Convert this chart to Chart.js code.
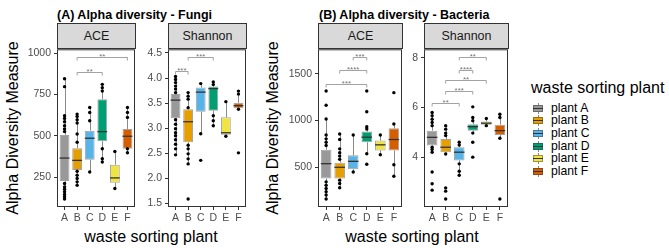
<!DOCTYPE html>
<html>
<head>
<meta charset="utf-8">
<script src="https://cdn.jsdelivr.net/npm/chart.js@4.4.1/dist/chart.umd.min.js"></script>
<style>
  body { margin: 0; background: #fff; font-family: "Liberation Sans", Arial, sans-serif; }
  #wrap { position: relative; width: 669px; height: 248px; overflow: hidden; background: #fff; }
  canvas { position: absolute; }
  .txt { position: absolute; white-space: nowrap; color: #000; }
  .title { font-weight: bold; font-size: 12.5px; line-height: 16px; }
  .axt { font-size: 16px; line-height: 20px; text-align: center; width: 220px; }
  .strip { position: absolute; box-sizing: border-box; background: #d9d9d9; border: 1px solid #333;
           font-size: 12.5px; color: #1a1a1a; text-align: center; }
  .key { position: absolute; width: 10px; height: 11px; }
  .key .wh { position: absolute; left: 4.5px; top: 0; width: 1px; height: 11px; background: #888; }
  .key .bx { position: absolute; left: 0; top: 2px; width: 10px; height: 7px; box-sizing: border-box;
             border: 1px solid rgba(50,50,50,0.45); }
  .key .md { position: absolute; left: 0; top: 5px; width: 10px; height: 1px; background: #333; }
  .lab { position: absolute; font-size: 12.2px; line-height: 13px; }
</style>
</head>
<body>
<div id="wrap">
  <div class="txt title" style="left:57px; top:7px;">(A) Alpha diversity - Fungi</div>
  <div class="txt title" style="left:319px; top:7px;">(B) Alpha diversity - Bacteria</div>
  <div class="txt axt" style="left:-97px; top:118px; transform:rotate(-90deg);">Alpha Diversity Measure</div>
  <div class="txt axt" style="left:163px; top:118px; transform:rotate(-90deg);">Alpha Diversity Measure</div>
  <div class="txt axt" style="left:41px; top:227px;">waste sorting plant</div>
  <div class="txt axt" style="left:302px; top:227px;">waste sorting plant</div>
  <div class="txt" style="left:531px; top:78px; font-size:16px; line-height:20px;">waste sorting plant</div>
  <div id="legend"></div>
</div>
<script>
const plants = ['A', 'B', 'C', 'D', 'E', 'F'];
const plantNames = ['plant A', 'plant B', 'plant C', 'plant D', 'plant E', 'plant F'];
const plantColors = ['#999999', '#E69F00', '#56B4E9', '#009E73', '#F0E442', '#D55E00'];

// box stats per plant: [lower whisker, q1, median, q3, upper whisker]
const fungiAceBox = [
  [118, 228, 366, 506, 846], [202, 294, 352, 426, 632], [282, 356, 486, 532, 672],
  [342, 468, 526, 722, 812], [182, 216, 246, 326, 406], [398, 422, 498, 542, 672]
];
const fungiAcePoints = [
  [846, 798, 622, 606, 586, 562, 542, 526, 212, 192, 178, 162, 146, 132, 118],
  [632, 618, 598, 578, 512, 462, 286, 262, 242, 222, 202],
  [672, 642, 592, 282],
  [812, 792, 772, 422, 362, 342],
  [406, 182],
  [672, 642, 612, 422, 398]
];
const fungiAceSig = [['B', 'D', 888, '**'], ['B', 'F', 976, '**']];
const fungiAceTicks = [250, 500, 750, 1000];

const fungiShannonBox = [
  [2.47, 3.20, 3.56, 3.68, 4.03], [2.29, 2.72, 3.13, 3.38, 3.71], [2.89, 3.33, 3.72, 3.81, 3.89],
  [3.05, 3.35, 3.79, 3.83, 3.92], [2.84, 2.87, 2.91, 3.22, 3.53], [3.38, 3.40, 3.45, 3.51, 3.74]
];
const fungiShannonPoints = [
  [4.03, 3.97, 3.91, 3.84, 3.78, 3.71, 3.17, 3.08, 2.99, 2.91, 2.85, 2.77, 2.68, 2.59, 2.47],
  [3.71, 3.64, 3.58, 3.41, 2.66, 2.59, 2.49, 2.39, 2.29, 1.59],
  [3.89, 2.89, 2.36],
  [3.92, 3.87, 3.25, 3.15, 3.05],
  [3.53, 2.84],
  [3.74, 3.68, 3.38, 2.51]
];
const fungiShannonSig = [['A', 'B', 4.14, '***'], ['B', 'D', 4.415, '***']];
const fungiShannonTicks = [1.5, 2.0, 2.5, 3.0, 3.5, 4.0, 4.5];

const bactAceBox = [
  [157, 376, 536, 685, 1015], [277, 376, 497, 547, 855], [447, 476, 561, 625, 844],
  [642, 766, 820, 880, 933], [632, 678, 738, 784, 844], [401, 678, 795, 915, 961]
];
const bactAcePoints = [
  [1316, 1163, 1015, 844, 802, 766, 731, 341, 305, 270, 234, 199, 157],
  [855, 795, 695, 653, 617, 582, 359, 323, 277],
  [844, 447],
  [1316, 1093, 933, 908, 642, 529],
  [844, 632],
  [1298, 961, 525, 401]
];
const bactAceSig = [['A', 'D', 1394, '***'], ['B', 'D', 1536, '****'], ['C', 'D', 1678, '***']];
const bactAceTicks = [500, 1000, 1500];

const bactShannonBox = [
  [4.20, 4.47, 4.80, 5.07, 5.80], [4.13, 4.20, 4.40, 4.73, 5.27], [3.27, 3.87, 4.20, 4.40, 4.60],
  [4.97, 5.07, 5.23, 5.33, 5.60], [5.27, 5.31, 5.37, 5.44, 5.56], [4.76, 4.89, 5.07, 5.31, 5.73]
];
const bactShannonPoints = [
  [5.80, 5.67, 5.53, 5.40, 5.27, 4.40, 4.31, 4.20, 3.40, 2.93, 2.67],
  [5.27, 5.13, 4.97, 4.87, 4.13, 2.76, 2.63, 2.31],
  [4.60, 4.49, 3.73, 3.43, 3.27],
  [6.03, 5.60, 5.47, 4.97, 4.60, 4.00],
  [5.56, 5.27],
  [5.73, 5.60, 4.76, 2.31]
];
const bactShannonSig = [
  ['A', 'C', 6.20, '**'], ['B', 'D', 6.67, '***'], ['B', 'E', 7.13, '**'],
  ['C', 'D', 7.53, '****'], ['C', 'E', 8.04, '**']
];
const bactShannonTicks = [4, 6, 8];

Chart.defaults.font.family = '"Liberation Sans", Arial, sans-serif';

const wrap = document.getElementById('wrap');
const PANEL_TOP = 48, PANEL_H = 159, STRIP_TOP = 23;
const Y_W = 36, X_H = 22, PAD_T = 8, PAD_R = 6;

function makePanel(p) {
  // facet strip
  const strip = document.createElement('div');
  strip.className = 'strip';
  strip.style.left = p.left + 'px';
  strip.style.top = STRIP_TOP + 'px';
  strip.style.width = (p.width + 1) + 'px';
  strip.style.height = (PANEL_TOP - STRIP_TOP + 1) + 'px';
  strip.style.lineHeight = (PANEL_TOP - STRIP_TOP - 1) + 'px';
  strip.textContent = p.strip;
  wrap.appendChild(strip);

  const canvas = document.createElement('canvas');
  const w = Y_W + p.width + PAD_R, h = PAD_T + PANEL_H + X_H;
  canvas.width = w; canvas.height = h;
  canvas.style.width = w + 'px'; canvas.style.height = h + 'px';
  canvas.style.left = (p.left - Y_W) + 'px';
  canvas.style.top = (PANEL_TOP - PAD_T) + 'px';
  wrap.appendChild(canvas);

  const pts = [];
  plants.forEach((pl, i) => p.points[i].forEach(v => pts.push({ x: pl, y: v })));

  const boxPlugin = {
    id: 'box_' + p.strip + p.left,
    beforeDatasetsDraw(chart) {
      const { ctx, scales: { x, y } } = chart;
      ctx.save();
      ctx.strokeStyle = '#8a8a8a';
      ctx.lineWidth = 1;
      p.box.forEach((b, i) => {
        const px = Math.round(x.getPixelForValue(i)) + 0.5;
        ctx.beginPath();
        ctx.moveTo(px, y.getPixelForValue(b[0]));
        ctx.lineTo(px, y.getPixelForValue(b[1]));
        ctx.moveTo(px, y.getPixelForValue(b[3]));
        ctx.lineTo(px, y.getPixelForValue(b[4]));
        ctx.stroke();
      });
      ctx.restore();
    },
    afterDatasetDraw(chart, args) {
      if (args.index !== 1) return;
      const { ctx, scales: { y } } = chart;
      ctx.save();
      ctx.strokeStyle = '#333';
      ctx.lineWidth = 1.3;
      args.meta.data.forEach((bar, i) => {
        const my = y.getPixelForValue(p.box[i][2]);
        ctx.beginPath();
        ctx.moveTo(bar.x - bar.width / 2, my);
        ctx.lineTo(bar.x + bar.width / 2, my);
        ctx.stroke();
      });
      ctx.restore();
    },
    afterDatasetsDraw(chart) {
      const { ctx, chartArea: a, scales: { x, y } } = chart;
      ctx.save();
      // significance brackets
      ctx.strokeStyle = '#8c8c8c';
      ctx.fillStyle = '#777';
      ctx.lineWidth = 0.8;
      ctx.font = '8px "Liberation Sans", Arial, sans-serif';
      ctx.textAlign = 'center';
      ctx.textBaseline = 'alphabetic';
      p.sig.forEach(s => {
        const x1 = x.getPixelForValue(plants.indexOf(s[0]));
        const x2 = x.getPixelForValue(plants.indexOf(s[1]));
        const yy = Math.round(y.getPixelForValue(s[2])) + 0.5;
        ctx.beginPath();
        ctx.moveTo(x1, yy + 3);
        ctx.lineTo(x1, yy);
        ctx.lineTo(x2, yy);
        ctx.lineTo(x2, yy + 3);
        ctx.stroke();
        ctx.fillText(s[3], (x1 + x2) / 2, yy + 1.5);
      });
      // panel border
      ctx.strokeStyle = '#333';
      ctx.lineWidth = 1;
      ctx.strokeRect(a.left + 0.5, a.top + 0.5, a.right - a.left - 1, a.bottom - a.top - 1);
      ctx.restore();
    }
  };

  new Chart(canvas, {
    type: 'bar',
    data: {
      labels: plants,
      datasets: [
        {
          type: 'line',
          data: pts,
          showLine: false,
          pointRadius: 1.7,
          pointBackgroundColor: '#000',
          pointBorderWidth: 0,
          order: 0
        },
        {
          type: 'bar',
          data: p.box.map(b => [b[1], b[3]]),
          backgroundColor: plantColors,
          borderColor: 'rgba(50,50,50,0.45)',
          borderWidth: 1,
          borderSkipped: false,
          categoryPercentage: 1,
          barPercentage: 0.78,
          order: 1
        }
      ]
    },
    options: {
      responsive: false,
      animation: false,
      devicePixelRatio: 1,
      events: [],
      layout: { padding: { top: PAD_T, right: PAD_R, left: 0, bottom: 0 } },
      plugins: { legend: { display: false }, tooltip: { enabled: false } },
      scales: {
        x: {
          offset: true,
          grid: { display: true, drawOnChartArea: false, offset: false, tickLength: 3, color: '#333' },
          border: { display: false },
          ticks: { color: '#4d4d4d', font: { size: 10.5 }, padding: 2, autoSkip: false, maxRotation: 0 },
          afterBuildTicks: s => { s._startValue = -0.6; s._valueRange = 6.2; },
          afterFit: s => { s.height = X_H; }
        },
        y: {
          min: p.min,
          max: p.max,
          grid: { display: true, drawOnChartArea: false, tickLength: 3, color: '#333' },
          border: { display: false },
          ticks: {
            color: '#4d4d4d', font: { size: 10.5 }, padding: 3, autoSkip: false,
            callback: v => p.fmt(v)
          },
          afterBuildTicks: s => { s.ticks = p.ticks.map(v => ({ value: v })); },
          afterFit: s => { s.width = Y_W; }
        }
      }
    },
    plugins: [boxPlugin]
  });
}

makePanel({ strip: 'ACE', left: 57, width: 78, min: 70, max: 1024, ticks: fungiAceTicks,
  fmt: v => String(v), box: fungiAceBox, points: fungiAcePoints, sig: fungiAceSig });
makePanel({ strip: 'Shannon', left: 168, width: 78, min: 1.431, max: 4.573, ticks: fungiShannonTicks,
  fmt: v => v.toFixed(1), box: fungiShannonBox, points: fungiShannonPoints, sig: fungiShannonSig });
makePanel({ strip: 'ACE', left: 318, width: 84, min: 71, max: 1763, ticks: bactAceTicks,
  fmt: v => String(v), box: bactAceBox, points: bactAcePoints, sig: bactAceSig });
makePanel({ strip: 'Shannon', left: 424, width: 84, min: 1.99, max: 8.35, ticks: bactShannonTicks,
  fmt: v => String(v), box: bactShannonBox, points: bactShannonPoints, sig: bactShannonSig });

// legend
const legend = document.getElementById('legend');
plantNames.forEach((name, i) => {
  const cy = 108.3 + i * 12.6;
  const key = document.createElement('div');
  key.className = 'key';
  key.style.left = '533px';
  key.style.top = (cy - 5.5) + 'px';
  key.innerHTML = '<div class="wh"></div><div class="bx" style="background:' + plantColors[i] +
    '"></div><div class="md"></div>';
  legend.appendChild(key);
  const lab = document.createElement('div');
  lab.className = 'txt lab';
  lab.style.left = '551px';
  lab.style.top = (cy - 6.5) + 'px';
  lab.textContent = name;
  legend.appendChild(lab);
});
</script>
</body>
</html>
